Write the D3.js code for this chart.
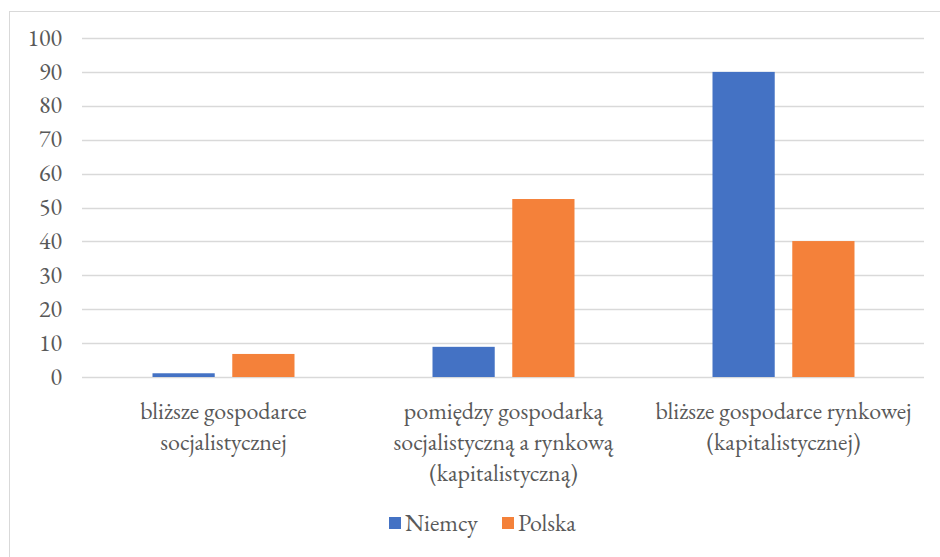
<!DOCTYPE html>
<html lang="pl">
<head>
<meta charset="utf-8">
<title>Niemcy / Polska</title>
<script src="https://d3js.org/d3.v7.min.js"></script>
<style>
    body { margin: 0; background: #fff; }
</style>
</head>
<body>
<div id="chart"></div>
<script>
    // data
    var categories = [
        ["bliższe gospodarce", "socjalistycznej"],
        ["pomiędzy gospodarką", "socjalistyczną a rynkową", "(kapitalistyczną)"],
        ["bliższe gospodarce rynkowej", "(kapitalistycznej)"]
    ];
    var seriesNames = ["Niemcy", "Polska"];
    var niemcy = [1.1, 8.9, 90.0];
    var polska = [6.8, 52.5, 40.1];
    var yTicks = [0, 10, 20, 30, 40, 50, 60, 70, 80, 90, 100];
    var colors = ["#4472C4", "#F4813A"];

    var FONT = "'EB Garamond'";
    var FS = "24px";
    var W = 940, H = 557;
    var svg = d3.select("#chart").append("svg")
        .attr("width", W).attr("height", H);

    // chart frame
    svg.append("rect")
        .attr("x", 9.5).attr("y", 11.5)
        .attr("width", W + 10).attr("height", H + 10)
        .attr("fill", "#fff").attr("stroke", "#d9d9d9");

    var x0 = d3.scaleBand().domain(d3.range(categories.length)).range([83.5, 923.5]);
    var x1 = d3.scaleBand().domain(seriesNames).range([69, 211]).paddingInner(0.22);
    var y = d3.scaleLinear().domain([0, 100]).range([377, 38]);

    // gridlines
    svg.append("g").selectAll("line").data(yTicks).join("line")
        .attr("x1", 82).attr("x2", 924)
        .attr("y1", function(d) { return Math.round(y(d)) + 0.5; })
        .attr("y2", function(d) { return Math.round(y(d)) + 0.5; })
        .attr("stroke", "#d9d9d9").attr("stroke-width", 1.3);

    // y tick labels
    svg.append("g").selectAll("text").data(yTicks).join("text")
        .attr("x", 62).attr("y", function(d) { return y(d); })
        .attr("dy", "0.32em").attr("text-anchor", "end")
        .style("font-family", FONT).style("font-size", FS).attr("fill", "#595959")
        .text(function(d) { return d; });

    // bars
    var values = [niemcy, polska];
    seriesNames.forEach(function(name, s) {
        svg.append("g").selectAll("rect").data(values[s]).join("rect")
            .attr("x", function(d, i) { return x0(i) + x1(name); })
            .attr("width", x1.bandwidth())
            .attr("y", function(d) { return y(d); })
            .attr("height", function(d) { return y(0) - y(d); })
            .attr("fill", colors[s]);
    });

    // category labels
    var lab = svg.append("g").selectAll("text").data(categories).join("text")
        .attr("text-anchor", "middle")
        .style("font-family", FONT).style("font-size", FS).attr("fill", "#595959")
        .attr("x", function(d, i) { return x0(i) + x0.bandwidth() / 2; })
        .attr("y", 411);
    lab.selectAll("tspan").data(function(d) { return d; }).join("tspan")
        .attr("x", function() { return d3.select(this.parentNode).attr("x"); })
        .attr("y", function(d, j) { return 411 + j * 31; })
        .attr("dy", "0.32em")
        .text(function(d) { return d; });

    // legend
    var legX = [389, 502];
    var leg = svg.append("g").selectAll("g").data(seriesNames).join("g")
        .attr("transform", function(d, i) { return "translate(" + legX[i] + ",523)"; });
    leg.append("rect")
        .attr("x", 0).attr("y", -6).attr("width", 12).attr("height", 12)
        .attr("fill", function(d, i) { return colors[i]; });
    leg.append("text")
        .attr("x", 16).attr("dy", "0.32em")
        .style("font-family", FONT).style("font-size", FS).attr("fill", "#595959")
        .text(function(d) { return d; });
</script>
</body>
</html>
